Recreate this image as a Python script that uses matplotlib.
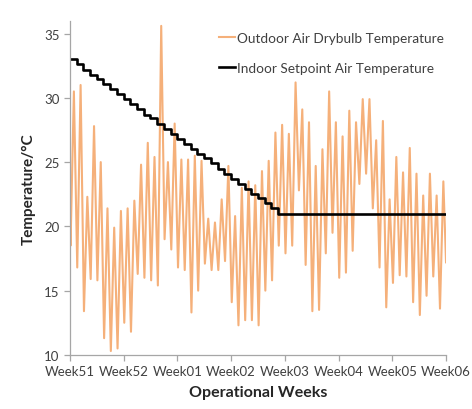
import numpy as np
import matplotlib
matplotlib.use("Agg")
import matplotlib.pyplot as plt

plt.rcParams['font.family'] = ['Lato', 'DejaVu Sans']

# week labels, one tick every 8 days of data
week_labels = ["Week51", "Week52", "Week01", "Week02", "Week03", "Week04", "Week05", "Week06"]
tick_days = [0, 8, 16, 24, 32, 40, 48, 56]

# outdoor drybulb: first value, then alternating daily min / max, then last value
outdoor_start = 21.2
outdoor_extremes = [
    18.5, 30.5, 16.8, 31.0, 13.4, 22.3, 15.9, 27.8, 15.8, 25.0,
    11.3, 21.4, 10.3, 19.9, 10.5, 21.2, 12.5, 21.4, 11.8, 22.0,
    16.3, 24.8, 16.0, 26.5, 15.8, 25.4, 15.4, 35.6, 19.0, 25.0,
    18.2, 28.0, 16.8, 25.2, 16.6, 25.2, 13.3, 25.5, 15.0, 25.1,
    17.1, 20.6, 16.6, 20.3, 16.6, 22.1, 17.3, 24.7, 14.1, 20.8,
    12.3, 23.0, 12.7, 23.5, 12.7, 23.2, 12.3, 24.3, 15.0, 25.1,
    15.8, 27.3, 18.5, 27.9, 17.9, 27.2, 18.5, 31.2, 22.8, 29.1,
    17.0, 28.1, 13.4, 24.7, 13.5, 26.0, 17.9, 30.5, 19.5, 28.1,
    16.0, 27.0, 16.4, 29.0, 18.1, 28.1, 23.3, 29.9, 24.1, 29.9,
    21.4, 26.7, 16.8, 28.2, 13.7, 22.1, 15.6, 25.4, 16.2, 24.2,
    16.1, 26.1, 14.1, 24.1, 13.1, 22.4, 14.6, 24.1, 16.1, 22.4,
    13.6, 23.5,
]
outdoor_end = 17.2

# indoor setpoint, one value per day, then held
setpoint_daily = [
    33.0, 32.6, 32.2, 31.8, 31.5, 31.1, 30.7, 30.3, 29.9, 29.5,
    29.1, 28.7, 28.4, 28.0, 27.6, 27.2, 26.8, 26.4, 26.0, 25.6,
    25.3, 24.9, 24.5, 24.1, 23.7, 23.3, 22.9, 22.5, 22.2, 21.8,
    21.4, 21.0,
]
setpoint_hold = 21.0

out_y = [outdoor_start] + outdoor_extremes + [outdoor_end]
out_x = [0.0] + [0.1 + 0.5 * k for k in range(len(outdoor_extremes))] + [56.0]

sp_x = list(range(len(setpoint_daily))) + [56]
sp_y = setpoint_daily + [setpoint_hold]

fig = plt.figure(figsize=(4.72, 4.10), dpi=100)
ax = fig.add_axes([0.148, 0.132, 0.797, 0.815])

ax.plot(out_x, out_y, color="#F5B07A", lw=1.5, label="Outdoor Air Drybulb Temperature")
ax.plot(sp_x, sp_y, color="black", lw=1.9, drawstyle="steps-post",
        label="Indoor Setpoint Air Temperature")

ax.set_xlim(0, 56)
ax.set_ylim(10, 36)
ax.set_xticks(tick_days)
ax.set_xticklabels(week_labels)
ax.set_yticks([10, 15, 20, 25, 30, 35])

for s in ["top", "right"]:
    ax.spines[s].set_visible(False)
for s in ["left", "bottom"]:
    ax.spines[s].set_color("#A6A6A6")
    ax.spines[s].set_linewidth(0.9)
ax.tick_params(colors="#A6A6A6", labelcolor="#404040", labelsize=9.5, length=4, width=0.9)
ax.tick_params(axis="x", pad=3)

ax.set_xlabel("Operational Weeks", fontsize=11.5, fontweight="bold", color="#262626", labelpad=6)
ax.set_ylabel("Temperature/°C", fontsize=11, fontweight="bold", color="#262626", labelpad=6)

leg = ax.legend(loc="upper right", bbox_to_anchor=(1.015, 0.99), frameon=False, fontsize=9.8,
                handlelength=1.2, handletextpad=0.1, labelspacing=1.3, borderaxespad=0.2)
for t in leg.get_texts():
    t.set_color("#404040")

fig.savefig("out.png", dpi=100)
